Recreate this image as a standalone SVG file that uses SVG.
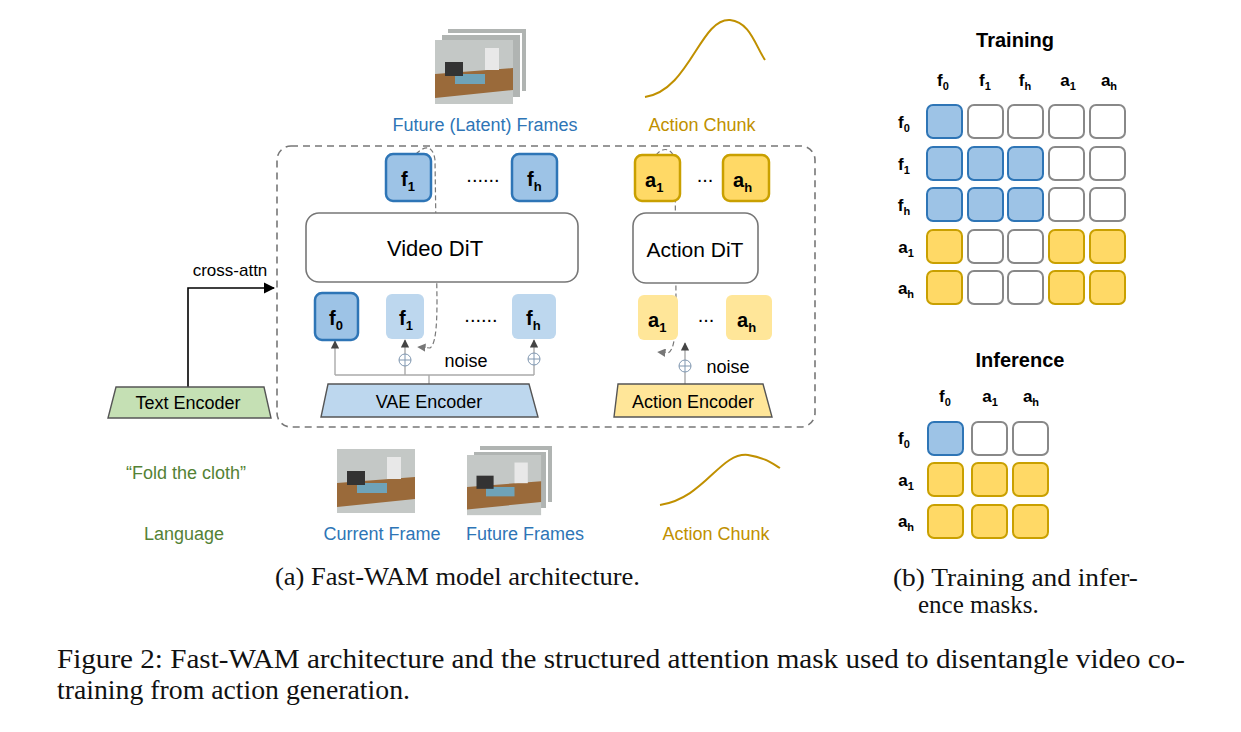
<svg xmlns="http://www.w3.org/2000/svg" width="1241" height="732" viewBox="0 0 1241 732">
<defs>
<style>
text{font-family:"Liberation Sans",Arial,sans-serif}
.serif{font-family:"Liberation Serif","Times New Roman",serif;fill:#111}
.tok{font-weight:bold;font-size:20px;fill:#000}
.sub{font-size:13px}
.fb{fill:#9dc3e6;stroke:#2e75b6;stroke-width:2.5}
.fl{fill:#bdd7ee}
.ab{fill:#ffd966;stroke:#c9a000;stroke-width:2.5}
.al{fill:#ffe699}
.e{fill:#fff;stroke:#888;stroke-width:2}
.mb{fill:#9dc3e6;stroke:#2e75b6;stroke-width:2}
.ma{fill:#ffd966;stroke:#c9a000;stroke-width:2}
.mh{font-weight:bold;font-size:17px;fill:#000}
.ms{font-size:11px}
.img{fill:#b0b4b2;stroke:#fff;stroke-width:2}
.lbl{font-size:18px}
</style>
<marker id="ah" viewBox="0 0 10 10" refX="9" refY="5" markerWidth="6" markerHeight="6" orient="auto"><path d="M0,0L10,5L0,10z" fill="#444"/></marker>
<marker id="ahb" viewBox="0 0 10 10" refX="9" refY="5" markerWidth="7" markerHeight="7" orient="auto"><path d="M0,0L10,5L0,10z" fill="#000"/></marker>
<marker id="ahg" viewBox="0 0 10 10" refX="9" refY="5" markerWidth="7" markerHeight="7" orient="auto"><path d="M0,0L10,5L0,10z" fill="#777"/></marker>
<g id="photo"><rect width="78" height="64" fill="#c4c8c6"/><path d="M0,34 L78,28 L78,50 L0,58Z" fill="#9a6a3a"/><rect x="20" y="34" width="30" height="10" fill="#6fa3b8"/><rect x="50" y="8" width="14" height="22" fill="#e8e8e8"/><rect x="10" y="22" width="18" height="14" fill="#333"/></g>
</defs>

<rect x="277" y="146" width="538" height="281" rx="14" fill="none" stroke="#777" stroke-width="1.6" stroke-dasharray="7,5"/>

<g id="images">
<rect class="img" x="447" y="28" width="80" height="64"/><rect class="img" x="441" y="34" width="80" height="64"/>
<use href="#photo" x="435" y="40"/>
<use href="#photo" x="337" y="449"/>
<rect class="img" x="479" y="445" width="74" height="58"/><rect class="img" x="473" y="451" width="74" height="58"/>
<use href="#photo" x="467" y="455" transform="translate(467,455) scale(0.95,0.94) translate(-467,-455)"/>
</g>

<g id="curves" fill="none" stroke="#c09000" stroke-width="2">
<path d="M645,97 C690,90 700,18 730,20 C750,22 755,45 765,60"/>
<path d="M660,505 C705,498 720,452 748,455 C765,458 770,462 780,468"/>
</g>

<g id="connectors" fill="none">
<path d="M188,387 V288 H274" stroke="#000" stroke-width="1.6" marker-end="url(#ahb)"/>
<path d="M429,384 V375 M335,375 H534" stroke="#aaa" stroke-width="1.4"/>
<path d="M335,375 V341" stroke="#aaa" stroke-width="1.4" marker-end="url(#ah)"/>
<path d="M405,375 V366 M405,354 V340" stroke="#aaa" stroke-width="1.4" marker-end="url(#ah)"/>
<path d="M534,375 V365 M534,353 V340" stroke="#aaa" stroke-width="1.4" marker-end="url(#ah)"/>
<path d="M685,384 V372 M685,360 V343" stroke="#aaa" stroke-width="1.4" marker-end="url(#ah)"/>
<circle cx="405" cy="360" r="6" fill="#fff" stroke="#8097b0"/><path d="M399,360H411M405,354V366" stroke="#8097b0"/>
<circle cx="534" cy="359" r="6" fill="#fff" stroke="#8097b0"/><path d="M528,359H540M534,353V365" stroke="#8097b0"/>
<circle cx="685" cy="366" r="6" fill="#fff" stroke="#8097b0"/><path d="M679,366H691M685,360V372" stroke="#8097b0"/>
<path d="M416,154 C425,145 433,145 435,160 L437,300 C437,330 435,345 430,348 L418,347" stroke="#777" stroke-width="1.2" stroke-dasharray="5,3" marker-end="url(#ahg)"/>
<path d="M656,155 C662,147 672,147 675,160 L676,300 C676,330 675,350 668,353 L658,352" stroke="#777" stroke-width="1.2" stroke-dasharray="5,3" marker-end="url(#ahg)"/>
</g>

<g id="video-dit"><rect x="306" y="213" width="272" height="69" rx="13" fill="#fff" stroke="#777" stroke-width="1.6"/><text x="435" y="256" font-size="22" text-anchor="middle">Video DiT</text></g>
<g id="action-dit"><rect x="633" y="213" width="125" height="70" rx="13" fill="#fff" stroke="#777" stroke-width="1.6"/><text x="695" y="257" font-size="21" text-anchor="middle">Action DiT</text></g>

<g id="top-f1"><rect class="fb" x="386" y="154" width="45" height="47" rx="7"/><text class="tok" x="401" y="186">f<tspan class="sub" dy="5">1</tspan></text></g>
<g id="top-fh"><rect class="fb" x="512" y="154" width="45" height="47" rx="7"/><text class="tok" x="527" y="186">f<tspan class="sub" dy="5">h</tspan></text></g>
<text x="483" y="182" font-size="20" text-anchor="middle">......</text>
<g id="top-a1"><rect class="ab" x="635" y="155" width="45" height="46" rx="7"/><text class="tok" x="645" y="187">a<tspan class="sub" dy="5">1</tspan></text></g>
<g id="top-ah"><rect class="ab" x="723" y="155" width="46" height="46" rx="7"/><text class="tok" x="733" y="187">a<tspan class="sub" dy="5">h</tspan></text></g>
<text x="705" y="182" font-size="20" text-anchor="middle">...</text>

<g id="bot-f0"><rect class="fb" x="315" y="293" width="43" height="47" rx="7"/><text class="tok" x="329" y="325">f<tspan class="sub" dy="5">0</tspan></text></g>
<g id="bot-f1"><rect class="fl" x="386" y="294" width="38" height="45" rx="6"/><text class="tok" x="399" y="325">f<tspan class="sub" dy="5">1</tspan></text></g>
<g id="bot-fh"><rect class="fl" x="512" y="294" width="44" height="45" rx="6"/><text class="tok" x="526" y="325">f<tspan class="sub" dy="5">h</tspan></text></g>
<text x="481" y="322" font-size="20" text-anchor="middle">......</text>
<g id="bot-a1"><rect class="al" x="638" y="295" width="40" height="45" rx="6"/><text class="tok" x="648" y="327">a<tspan class="sub" dy="5">1</tspan></text></g>
<g id="bot-ah"><rect class="al" x="726" y="295" width="46" height="45" rx="6"/><text class="tok" x="737" y="327">a<tspan class="sub" dy="5">h</tspan></text></g>
<text x="706" y="322" font-size="20" text-anchor="middle">...</text>
<text class="lbl" x="466" y="367" text-anchor="middle">noise</text>
<text class="lbl" x="728" y="373" text-anchor="middle">noise</text>

<g id="vae"><path d="M328,384H529L538,417H321Z" fill="#bdd7ee" stroke="#555" stroke-width="1.4"/><text class="lbl" x="429" y="408" text-anchor="middle">VAE Encoder</text></g>
<g id="action-enc"><path d="M618,384H763L772,417H614Z" fill="#ffe699" stroke="#555" stroke-width="1.4"/><text class="lbl" x="693" y="408" text-anchor="middle">Action Encoder</text></g>
<g id="text-enc"><path d="M116,387H264L271,418H108Z" fill="#c5e0b4" stroke="#555" stroke-width="1.4"/><text class="lbl" x="188" y="409" text-anchor="middle">Text Encoder</text></g>
<text x="230" y="276" font-size="17" text-anchor="middle">cross-attn</text>

<text class="lbl" x="485" y="131" fill="#2e75b6" text-anchor="middle">Future (Latent) Frames</text>
<text class="lbl" x="702" y="131" fill="#c09000" text-anchor="middle">Action Chunk</text>
<text class="lbl" x="186" y="479" fill="#548235" text-anchor="middle">“Fold the cloth”</text>
<text class="lbl" x="184" y="540" fill="#548235" text-anchor="middle">Language</text>
<text class="lbl" x="382" y="540" fill="#2e75b6" text-anchor="middle">Current Frame</text>
<text class="lbl" x="525" y="540" fill="#2e75b6" text-anchor="middle">Future Frames</text>
<text class="lbl" x="716" y="540" fill="#c09000" text-anchor="middle">Action Chunk</text>

<g id="training-mask">
<text x="1015" y="47" font-size="20" font-weight="bold" text-anchor="middle">Training</text>
<g class="mh" text-anchor="middle">
<text x="943" y="86">f<tspan class="ms" dy="4">0</tspan></text><text x="985" y="86">f<tspan class="ms" dy="4">1</tspan></text><text x="1025" y="86">f<tspan class="ms" dy="4">h</tspan></text><text x="1068" y="86">a<tspan class="ms" dy="4">1</tspan></text><text x="1109" y="86">a<tspan class="ms" dy="4">h</tspan></text>
<text x="904" y="128">f<tspan class="ms" dy="4">0</tspan></text><text x="904" y="170">f<tspan class="ms" dy="4">1</tspan></text><text x="904" y="211">f<tspan class="ms" dy="4">h</tspan></text><text x="906" y="253">a<tspan class="ms" dy="4">1</tspan></text><text x="906" y="294">a<tspan class="ms" dy="4">h</tspan></text>
</g>
<rect class="mb" x="927" y="105" width="35" height="33" rx="6"/><rect class="e" x="968" y="105" width="35" height="33" rx="6"/><rect class="e" x="1008" y="105" width="35" height="33" rx="6"/><rect class="e" x="1049" y="105" width="35" height="33" rx="6"/><rect class="e" x="1090" y="105" width="35" height="33" rx="6"/>
<rect class="mb" x="927" y="147" width="35" height="33" rx="6"/><rect class="mb" x="968" y="147" width="35" height="33" rx="6"/><rect class="mb" x="1008" y="147" width="35" height="33" rx="6"/><rect class="e" x="1049" y="147" width="35" height="33" rx="6"/><rect class="e" x="1090" y="147" width="35" height="33" rx="6"/>
<rect class="mb" x="927" y="188" width="35" height="33" rx="6"/><rect class="mb" x="968" y="188" width="35" height="33" rx="6"/><rect class="mb" x="1008" y="188" width="35" height="33" rx="6"/><rect class="e" x="1049" y="188" width="35" height="33" rx="6"/><rect class="e" x="1090" y="188" width="35" height="33" rx="6"/>
<rect class="ma" x="927" y="230" width="35" height="33" rx="6"/><rect class="e" x="968" y="230" width="35" height="33" rx="6"/><rect class="e" x="1008" y="230" width="35" height="33" rx="6"/><rect class="ma" x="1049" y="230" width="35" height="33" rx="6"/><rect class="ma" x="1090" y="230" width="35" height="33" rx="6"/>
<rect class="ma" x="927" y="271" width="35" height="33" rx="6"/><rect class="e" x="968" y="271" width="35" height="33" rx="6"/><rect class="e" x="1008" y="271" width="35" height="33" rx="6"/><rect class="ma" x="1049" y="271" width="35" height="33" rx="6"/><rect class="ma" x="1090" y="271" width="35" height="33" rx="6"/>
</g>

<g id="inference-mask">
<text x="1020" y="367" font-size="20" font-weight="bold" text-anchor="middle">Inference</text>
<g class="mh" text-anchor="middle">
<text x="945" y="402">f<tspan class="ms" dy="4">0</tspan></text><text x="990" y="402">a<tspan class="ms" dy="4">1</tspan></text><text x="1031" y="402">a<tspan class="ms" dy="4">h</tspan></text>
<text x="904" y="444">f<tspan class="ms" dy="4">0</tspan></text><text x="906" y="486">a<tspan class="ms" dy="4">1</tspan></text><text x="906" y="527">a<tspan class="ms" dy="4">h</tspan></text>
</g>
<rect class="mb" x="928" y="422" width="35" height="33" rx="6"/><rect class="e" x="972" y="422" width="35" height="33" rx="6"/><rect class="e" x="1013" y="422" width="35" height="33" rx="6"/>
<rect class="ma" x="928" y="463" width="35" height="33" rx="6"/><rect class="ma" x="972" y="463" width="35" height="33" rx="6"/><rect class="ma" x="1013" y="463" width="35" height="33" rx="6"/>
<rect class="ma" x="928" y="505" width="35" height="33" rx="6"/><rect class="ma" x="972" y="505" width="35" height="33" rx="6"/><rect class="ma" x="1013" y="505" width="35" height="33" rx="6"/>
</g>

<text class="serif" style="font-size:25px" x="275" y="585" textLength="365" lengthAdjust="spacingAndGlyphs">(a) Fast-WAM model architecture.</text>
<text class="serif" style="font-size:25px" x="893" y="586" textLength="245" lengthAdjust="spacingAndGlyphs">(b) Training and infer-</text>
<text class="serif" style="font-size:25px" x="918" y="613">ence masks.</text>
<text class="serif" style="font-size:28px" x="57" y="668" textLength="1128" lengthAdjust="spacingAndGlyphs">Figure 2: Fast-WAM architecture and the structured attention mask used to disentangle video co-</text>
<text class="serif" style="font-size:28px" x="57" y="699" textLength="353" lengthAdjust="spacingAndGlyphs">training from action generation.</text>
</svg>
